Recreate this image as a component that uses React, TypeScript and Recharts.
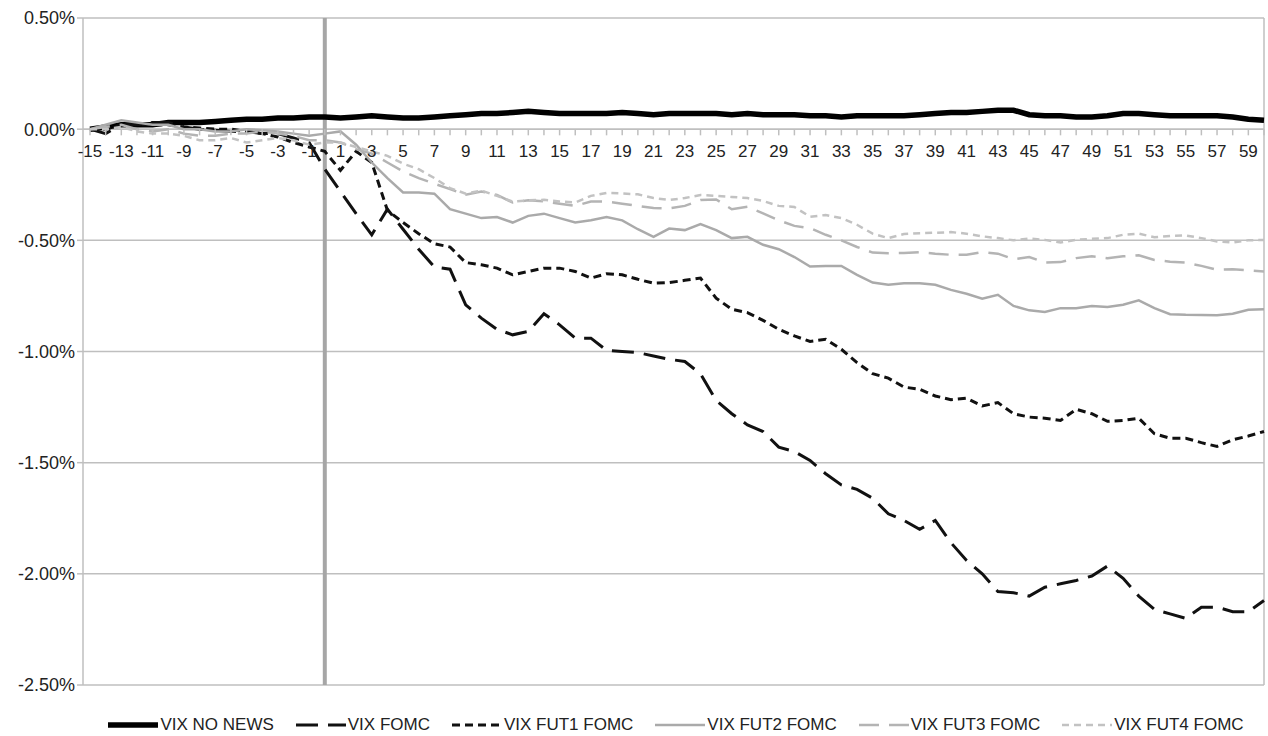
import React from "react";
import {
  LineChart,
  Line,
  XAxis,
  YAxis,
  CartesianGrid,
  ReferenceLine,
} from "recharts";

// event time, -15 .. 60
const days = [
  -15, -14, -13, -12, -11, -10, -9, -8, -7, -6, -5, -4, -3, -2, -1, 0, 1, 2, 3, 4,
  5, 6, 7, 8, 9, 10, 11, 12, 13, 14, 15, 16, 17, 18, 19, 20, 21, 22, 23, 24, 25,
  26, 27, 28, 29, 30, 31, 32, 33, 34, 35, 36, 37, 38, 39, 40, 41, 42, 43, 44, 45,
  46, 47, 48, 49, 50, 51, 52, 53, 54, 55, 56, 57, 58, 59, 60,
];

// cumulative returns, in percent
const vixNoNews = [
  0, 0.01, 0.02, 0.02, 0.02, 0.03, 0.03, 0.03, 0.035, 0.04, 0.045, 0.045, 0.05, 0.05, 0.055, 0.055,
  0.05, 0.055, 0.06, 0.055, 0.05, 0.05, 0.055, 0.06, 0.065, 0.07, 0.07, 0.075, 0.08, 0.075, 0.07,
  0.07, 0.07, 0.07, 0.075, 0.07, 0.065, 0.07, 0.07, 0.07, 0.07, 0.065, 0.07, 0.065, 0.065, 0.065,
  0.06, 0.06, 0.055, 0.06, 0.06, 0.06, 0.06, 0.065, 0.07, 0.075, 0.075, 0.08, 0.085, 0.085, 0.065,
  0.06, 0.06, 0.055, 0.055, 0.06, 0.07, 0.07, 0.065, 0.06, 0.06, 0.06, 0.06, 0.055, 0.045, 0.04,
];
const vixFomc = [
  0, -0.02, 0.02, 0.02, 0.03, 0.03, 0.01, 0.0, -0.005, -0.01, -0.01, -0.02, -0.02, -0.04, -0.06, -0.18,
  -0.28, -0.38, -0.475, -0.36, -0.45, -0.54, -0.62, -0.63, -0.79, -0.85, -0.9, -0.925, -0.91, -0.83,
  -0.88, -0.94, -0.94, -0.995, -1.0, -1.005, -1.02, -1.035, -1.045, -1.1, -1.22, -1.28, -1.33, -1.36,
  -1.43, -1.45, -1.49, -1.55, -1.6, -1.62, -1.66, -1.73, -1.76, -1.8, -1.76, -1.86, -1.94, -2.0,
  -2.08, -2.085, -2.1, -2.06, -2.045, -2.03, -2.01, -1.965, -2.02, -2.1, -2.16, -2.18, -2.2, -2.15,
  -2.15, -2.17, -2.17, -2.12,
];
const vixFut1 = [
  0, 0.0, 0.02, 0.02, 0.02, 0.02, 0.01, 0.005, 0.0, 0.0, -0.01, -0.02, -0.035, -0.06, -0.08, -0.1,
  -0.185, -0.1, -0.15, -0.365, -0.42, -0.47, -0.515, -0.53, -0.6, -0.61, -0.625, -0.655, -0.64,
  -0.625, -0.625, -0.64, -0.67, -0.65, -0.655, -0.675, -0.693, -0.69, -0.68, -0.67, -0.76, -0.81,
  -0.825, -0.86, -0.9, -0.93, -0.955, -0.945, -0.99, -1.05, -1.1, -1.12, -1.16, -1.17, -1.2, -1.217,
  -1.21, -1.245, -1.23, -1.28, -1.295, -1.3, -1.31, -1.26, -1.28, -1.314, -1.31, -1.3, -1.37, -1.39,
  -1.39, -1.41, -1.427, -1.397, -1.38, -1.36,
];
const vixFut2 = [
  0, 0.02, 0.04, 0.03, 0.02, 0.02, 0.0, 0.0, -0.01, -0.01, 0.0, -0.005, -0.01, -0.02, -0.03, -0.02,
  -0.01, -0.07, -0.15, -0.22, -0.285, -0.285, -0.29, -0.36, -0.38, -0.4, -0.395, -0.42, -0.39, -0.38,
  -0.4, -0.42, -0.41, -0.395, -0.41, -0.45, -0.484, -0.447, -0.454, -0.427, -0.454, -0.49, -0.484,
  -0.52, -0.54, -0.575, -0.618, -0.615, -0.615, -0.655, -0.69, -0.7, -0.693, -0.693, -0.7, -0.723,
  -0.74, -0.763, -0.745, -0.795, -0.815, -0.822, -0.805, -0.805, -0.795, -0.8, -0.79, -0.77, -0.805,
  -0.832, -0.835, -0.836, -0.837, -0.83, -0.812, -0.81,
];
const vixFut3 = [
  0, 0.01, 0.02, 0.0, -0.01, 0.0, -0.02, -0.03, -0.03, -0.02, -0.02, -0.01, -0.02, -0.03, -0.05,
  -0.05, -0.06, -0.09, -0.11, -0.15, -0.19, -0.22, -0.245, -0.27, -0.295, -0.28, -0.296, -0.33,
  -0.32, -0.325, -0.335, -0.345, -0.325, -0.326, -0.335, -0.345, -0.355, -0.356, -0.345, -0.319,
  -0.316, -0.36, -0.349, -0.379, -0.41, -0.435, -0.445, -0.475, -0.5, -0.53, -0.555, -0.558, -0.557,
  -0.553, -0.56, -0.565, -0.565, -0.553, -0.56, -0.585, -0.575, -0.6, -0.598, -0.58, -0.572, -0.58,
  -0.572, -0.567, -0.588, -0.596, -0.6, -0.615, -0.632, -0.63, -0.635, -0.64,
];
const vixFut4 = [
  0, 0.0, 0.01, -0.01, -0.02, -0.02, -0.03, -0.05, -0.05, -0.04, -0.06, -0.05, -0.04, -0.05, -0.07,
  -0.06, -0.06, -0.08, -0.1, -0.12, -0.155, -0.18, -0.22, -0.265, -0.29, -0.276, -0.3, -0.326, -0.32,
  -0.318, -0.325, -0.33, -0.3, -0.287, -0.289, -0.293, -0.31, -0.318, -0.31, -0.296, -0.3, -0.305,
  -0.31, -0.323, -0.345, -0.35, -0.394, -0.386, -0.4, -0.43, -0.47, -0.49, -0.472, -0.468, -0.466,
  -0.463, -0.47, -0.482, -0.49, -0.5, -0.492, -0.498, -0.51, -0.498, -0.493, -0.49, -0.475, -0.47,
  -0.486, -0.48, -0.478, -0.49, -0.505, -0.51, -0.5, -0.498,
];

const yTicks = [0.5, 0, -0.5, -1, -1.5, -2, -2.5];

const series = [
  { key: "noNews", name: "VIX NO NEWS", values: vixNoNews, color: "#000000", width: 5.5, dash: undefined },
  { key: "fomc", name: "VIX FOMC", values: vixFomc, color: "#111111", width: 3, dash: "22 10" },
  { key: "fut1", name: "VIX FUT1 FOMC", values: vixFut1, color: "#111111", width: 3, dash: "8 5" },
  { key: "fut2", name: "VIX FUT2 FOMC", values: vixFut2, color: "#aaaaaa", width: 2.5, dash: undefined },
  { key: "fut3", name: "VIX FUT3 FOMC", values: vixFut3, color: "#b4b4b4", width: 2.5, dash: "20 10" },
  { key: "fut4", name: "VIX FUT4 FOMC", values: vixFut4, color: "#c2c2c2", width: 2.5, dash: "7 5" },
];

const data = days.map((t, i) => {
  const row: any = { t };
  series.forEach((s) => (row[s.key] = s.values[i]));
  return row;
});

const W = 1268;
const H = 700;
const TOP = 18;
const BOTTOM = 14;
const Y_MAX = 0.5;
const Y_MIN = -2.5;
const FONT = "'Liberation Sans Narrow', 'Liberation Sans', Arial, sans-serif";
const GRID = "#bfbfbf";

// x tick labels sit under the zero line, as in Excel
const zeroY = TOP + ((H - TOP - BOTTOM) * (Y_MAX - 0)) / (Y_MAX - Y_MIN);

const XTick = (props: any) => {
  const { x, payload } = props;
  const v = payload.value;
  return (
    <g>
      <line x1={x} x2={x} y1={zeroY} y2={zeroY + 6} stroke={GRID} strokeWidth={1.5} />
      {Math.abs(v) % 2 === 1 && (
        <text x={x} y={zeroY + 28} textAnchor="middle" fontSize={17} fontFamily={FONT} fill="#222">
          {v}
        </text>
      )}
    </g>
  );
};

const LegendRow = () => (
  <div
    style={{
      display: "flex",
      justifyContent: "center",
      alignItems: "center",
      gap: 22,
      fontFamily: FONT,
      fontSize: 17,
      color: "#222",
      marginTop: 15,
      paddingLeft: 84,
    }}
  >
    {series.map((s) => (
      <div key={s.key} style={{ display: "flex", alignItems: "center" }}>
        <svg width={50} height={12}>
          <line
            x1={0}
            x2={50}
            y1={6}
            y2={6}
            stroke={s.color}
            strokeWidth={s.width}
            strokeDasharray={s.dash}
          />
        </svg>
        <span style={{ marginLeft: 2 }}>{s.name}</span>
      </div>
    ))}
  </div>
);

export default function App() {
  return (
    <div style={{ position: "absolute", left: 0, top: 0, width: W, height: 736, background: "#fff" }}>
      <LineChart width={W} height={H} data={data} margin={{ top: TOP, right: 4, left: 0, bottom: BOTTOM }}>
        <CartesianGrid vertical={false} stroke={GRID} strokeWidth={1.5} />
        <XAxis
          dataKey="t"
          type="number"
          domain={[-15, 60]}
          ticks={days}
          interval={0}
          padding={{ left: 7, right: 0 }}
          axisLine={false}
          tickLine={false}
          tick={<XTick />}
          height={1}
        />
        <YAxis
          domain={[Y_MIN, Y_MAX]}
          ticks={yTicks}
          width={83}
          tickFormatter={(v: number) => `${v.toFixed(2)}%`}
          axisLine={{ stroke: GRID, strokeWidth: 1.5 }}
          tickLine={{ stroke: GRID, strokeWidth: 1.5 }}
          tickSize={6}
          tick={{ fontSize: 18, fontFamily: FONT, fill: "#222" }}
        />
        <ReferenceLine y={0} stroke={GRID} strokeWidth={1.5} />
        <ReferenceLine x={60} stroke={GRID} strokeWidth={1.5} />
        <ReferenceLine x={0} stroke="#a6a6a6" strokeWidth={4} />
        {series.map((s) => (
          <Line
            key={s.key}
            dataKey={s.key}
            name={s.name}
            type="linear"
            stroke={s.color}
            strokeWidth={s.width}
            strokeDasharray={s.dash}
            dot={false}
            isAnimationActive={false}
          />
        ))}
      </LineChart>
      <LegendRow />
    </div>
  );
}
